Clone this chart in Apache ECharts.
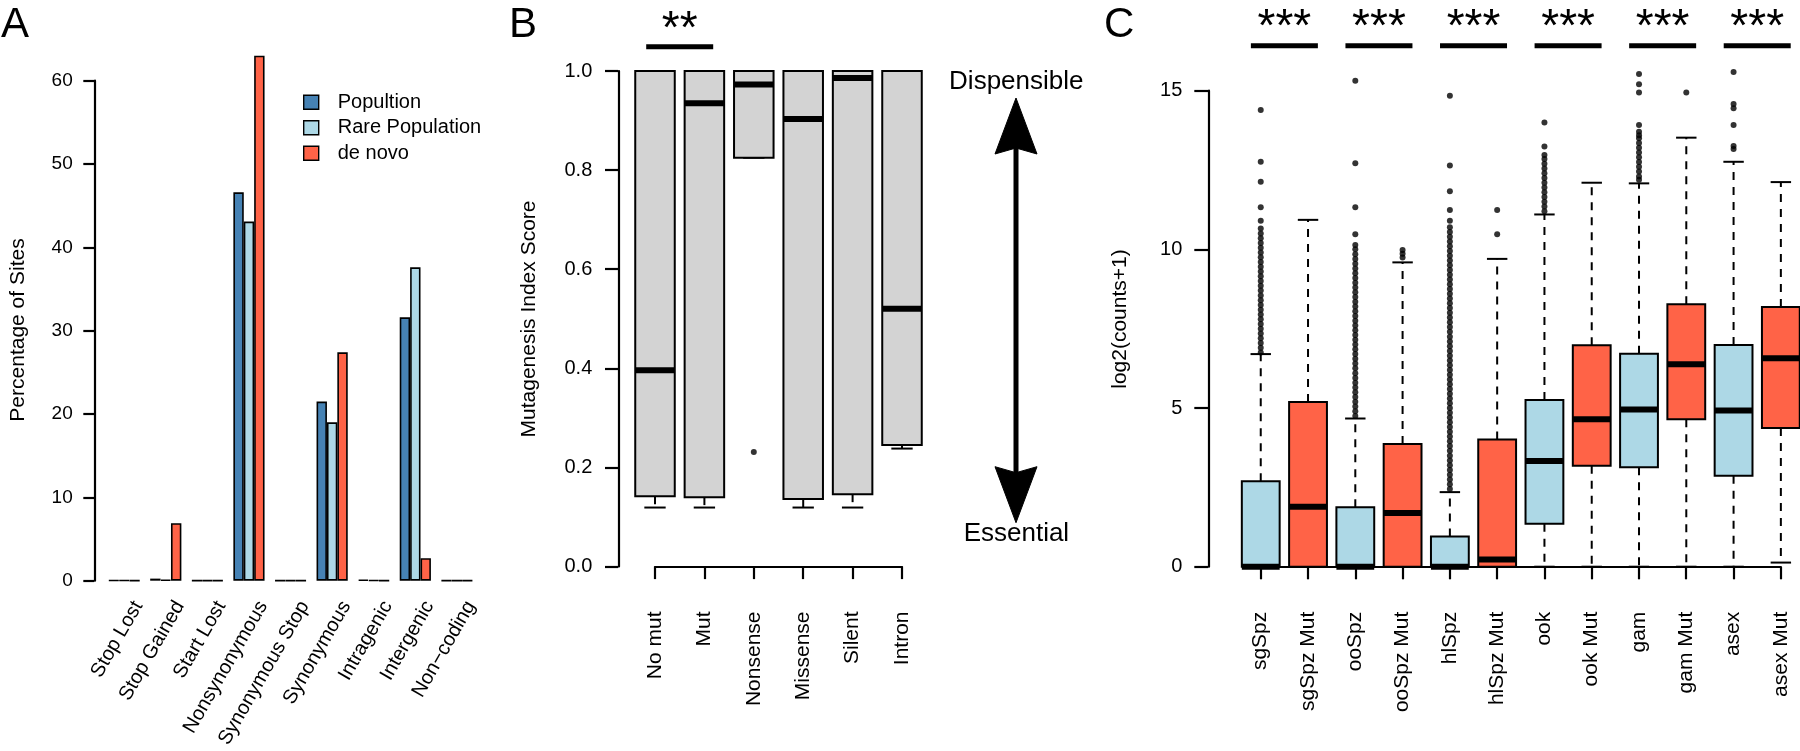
<!DOCTYPE html>
<html>
<head>
<meta charset="utf-8">
<script src="https://cdn.jsdelivr.net/npm/echarts@6/dist/echarts.min.js"></script>
<style>
html,body{margin:0;padding:0;background:#fff;}
#chart{width:1800px;height:751px;}
</style>
</head>
<body>
<div id="chart"></div>
<script>
// ---------- Panel A data ----------
const aCategories = ['Stop Lost','Stop Gained','Start Lost','Nonsynonymous','Synonymous Stop','Synonymous','Intragenic','Intergenic','Non\u2212coding'];
const aPopulation = [0.05, 0.25, 0.02, 46.6, 0.02, 21.5, 0.12, 31.6, 0.02];
const aRare       = [0.05, 0.10, 0.02, 43.1, 0.02, 19.0, 0.05, 37.6, 0.02];
const aDeNovo     = [0.02, 6.9, 0.02, 63.0, 0.02, 27.4, 0.02, 2.7, 0.02];
const aSeriesNames = ['Popultion','Rare Population','de novo'];
const aTicks = [0, 10, 20, 30, 40, 50, 60];

// ---------- Panel B data ----------
const bCategories = ['No mut','Mut','Nonsense','Missense','Silent','Intron'];
const bLow  = [0.119, 0.119, 0.825, 0.119, 0.119, 0.238];
const bQ1   = [0.142, 0.140, 0.825, 0.136, 0.146, 0.245];
const bMed  = [0.396, 0.935, 0.973, 0.903, 0.986, 0.520];
const bQ3   = [1.0, 1.0, 1.0, 1.0, 1.0, 1.0];
const bHigh = [1.0, 1.0, 1.0, 1.0, 1.0, 1.0];
const bOutlierIndex = [2];
const bOutlierValue = [0.231];
const bSigPairs = [[0, 1]];
const bSigLabels = ['**'];

// ---------- Panel C data ----------
const cCategories = ['sgSpz','sgSpz Mut','ooSpz','ooSpz Mut','hlSpz','hlSpz Mut','ook','ook Mut','gam','gam Mut','asex','asex Mut'];
const cLow  = [0, 0, 0, 0, 0, 0, 0, 0, 0, 0, 0, 0.13];
const cQ1   = [0, 0, 0, 0, 0, 0, 1.35, 3.18, 3.13, 4.65, 2.87, 4.37];
const cMed  = [0, 1.89, 0, 1.69, 0, 0.23, 3.33, 4.65, 4.95, 6.38, 4.92, 6.57];
const cQ3   = [2.69, 5.19, 1.87, 3.87, 0.95, 4.01, 5.25, 6.98, 6.71, 8.27, 6.99, 8.18];
const cHigh = [6.70, 10.93, 4.67, 9.59, 2.35, 9.70, 11.10, 12.10, 12.08, 13.52, 12.76, 12.12];
const cOutSgSpz = [6.75, 6.9, 7.05, 7.2, 7.35, 7.5, 7.65, 7.8, 7.95, 8.1, 8.25, 8.4, 8.55, 8.7, 8.85, 9.0, 9.15, 9.3, 9.45, 9.6, 9.75, 9.9, 10.05, 10.2, 10.35, 10.5, 10.66, 10.9, 11.33, 12.13, 12.76, 14.39];
const cOutSgSpzMut = [];
const cOutOoSpz = [4.75, 4.9, 5.05, 5.2, 5.35, 5.5, 5.65, 5.8, 5.95, 6.1, 6.25, 6.4, 6.55, 6.7, 6.85, 7.0, 7.15, 7.3, 7.45, 7.6, 7.75, 7.9, 8.05, 8.2, 8.35, 8.5, 8.65, 8.8, 8.95, 9.1, 9.25, 9.4, 9.55, 9.7, 9.85, 10.0, 10.14, 10.48, 11.33, 12.71, 15.31];
const cOutOoSpzMut = [9.74, 9.86, 9.98];
const cOutHlSpz = [2.45, 2.6, 2.75, 2.9, 3.05, 3.2, 3.35, 3.5, 3.65, 3.8, 3.95, 4.1, 4.25, 4.4, 4.55, 4.7, 4.85, 5.0, 5.15, 5.3, 5.45, 5.6, 5.75, 5.9, 6.05, 6.2, 6.35, 6.5, 6.65, 6.8, 6.95, 7.1, 7.25, 7.4, 7.55, 7.7, 7.85, 8.0, 8.15, 8.3, 8.45, 8.6, 8.75, 8.9, 9.05, 9.2, 9.35, 9.5, 9.65, 9.8, 9.95, 10.1, 10.25, 10.4, 10.55, 10.7, 10.9, 11.24, 11.83, 12.64, 14.84];
const cOutHlSpzMut = [10.48, 11.24];
const cOutOok = [11.2, 11.35, 11.5, 11.65, 11.8, 11.95, 12.1, 12.25, 12.4, 12.55, 12.7, 12.85, 12.97, 13.24, 14.0];
const cOutOokMut = [];
const cOutGam = [12.19, 12.3, 12.45, 12.6, 12.75, 12.9, 13.05, 13.2, 13.35, 13.5, 13.6, 13.71, 13.92, 14.94, 15.2, 15.53];
const cOutGamMut = [14.94];
const cOutAsex = [13.16, 13.26, 13.92, 14.45, 14.58, 15.59];
const cOutAsexMut = [];
const cSigPairs = [[0, 1], [2, 3], [4, 5], [6, 7], [8, 9], [10, 11]];
const cSigLabels = ['***', '***', '***', '***', '***', '***'];

// ---------- helpers ----------
const FONT = '"Liberation Sans", Arial, Helvetica, sans-serif';
const BLACK = '#000000';
const cOutliers = [cOutSgSpz, cOutSgSpzMut, cOutOoSpz, cOutOoSpzMut, cOutHlSpz, cOutHlSpzMut, cOutOok, cOutOokMut, cOutGam, cOutGamMut, cOutAsex, cOutAsexMut];

function boxRows(low, q1, med, q3, high, filterFn) {
  const rows = [];
  for (let i = 0; i < low.length; i++) {
    if (!filterFn || filterFn(i)) rows.push([i, low[i], q1[i], med[i], q3[i], high[i]]);
  }
  return rows;
}

function makeBoxRender(fill) {
  return function (params, api) {
    const xi = api.value(0);
    const lo = api.value(1), q1 = api.value(2), md = api.value(3), q3 = api.value(4), hi = api.value(5);
    const x = api.coord([xi, md])[0];
    const yLo = api.coord([xi, lo])[1];
    const yQ1 = api.coord([xi, q1])[1];
    const yMd = api.coord([xi, md])[1];
    const yQ3 = api.coord([xi, q3])[1];
    const yHi = api.coord([xi, hi])[1];
    const bw = api.size([1, 0])[0] * 0.8;
    const st = bw * 0.27;
    const ch = [];
    const wStyle = { stroke: BLACK, lineWidth: 2, lineDash: [8, 7] };
    if (hi > q3) ch.push({ type: 'line', shape: { x1: x, y1: yQ3, x2: x, y2: yHi }, style: wStyle });
    if (lo < q1) ch.push({ type: 'line', shape: { x1: x, y1: yQ1, x2: x, y2: yLo }, style: wStyle });
    ch.push({ type: 'line', shape: { x1: x - st, y1: yHi, x2: x + st, y2: yHi }, style: { stroke: BLACK, lineWidth: 2 } });
    ch.push({ type: 'line', shape: { x1: x - st, y1: yLo, x2: x + st, y2: yLo }, style: { stroke: BLACK, lineWidth: 2 } });
    ch.push({ type: 'rect', shape: { x: x - bw / 2, y: yQ3, width: bw, height: yQ1 - yQ3 }, style: { fill: fill, stroke: BLACK, lineWidth: 2 } });
    ch.push({ type: 'line', shape: { x1: x - bw / 2, y1: yMd, x2: x + bw / 2, y2: yMd }, style: { stroke: BLACK, lineWidth: 6 } });
    return { type: 'group', children: ch };
  };
}

function makeSigRender(labels, barY, textY) {
  return function (params, api) {
    const a = api.coord([api.value(0), 0]);
    const b = api.coord([api.value(1), 0]);
    const cx = (a[0] + b[0]) / 2;
    return {
      type: 'group',
      children: [
        { type: 'rect', shape: { x: cx - 33.5, y: barY - 2.5, width: 67, height: 5 }, style: { fill: BLACK } },
        { type: 'text', style: { text: labels[params.dataIndex], x: cx, y: textY, align: 'center', verticalAlign: 'middle', fontSize: 46, fontFamily: FONT, fill: BLACK } }
      ]
    };
  };
}

const bOutlierData = bOutlierIndex.map((idx, k) => [idx, bOutlierValue[k]]);
const cOutlierData = [];
cOutliers.forEach((arr, idx) => arr.forEach(v => cOutlierData.push([idx, v])));

const axisLineStyle = { color: BLACK, width: 2.2 };

// ---------- grids ----------
const grids = [
  { left: 103.4, top: 80.7, width: 374.3, height: 500 },      // 0 A data
  { left: 117.4, top: 80.7, width: 374.3, height: 500 },      // 1 A labels
  { left: 630.3, top: 71, width: 296.4, height: 495.5 },      // 2 B data
  { left: 655, top: 71, width: 247, height: 495.5 },          // 3 B x axis
  { left: 1237.1, top: 90.7, width: 567.4, height: 476 },     // 4 C data
  { left: 1260.7, top: 90.7, width: 520.1, height: 476 }      // 5 C x axis
].map(g => Object.assign({ outerBoundsMode: 'none', containLabel: false }, g));

const hiddenCat = (gi, data) => ({ type: 'category', gridIndex: gi, data: data, show: false, boundaryGap: true });

const xAxes = [
  hiddenCat(0, aCategories),
  { type: 'category', gridIndex: 1, data: aCategories, boundaryGap: true,
    axisLine: { show: false }, axisTick: { show: false },
    axisLabel: { interval: 0, rotate: 60, margin: 22, fontSize: 20, fontFamily: FONT, color: BLACK } },
  hiddenCat(2, bCategories),
  { type: 'category', gridIndex: 3, data: bCategories, boundaryGap: false, offset: 20,
    axisLine: { show: true, lineStyle: axisLineStyle },
    axisTick: { show: true, length: 12.6, lineStyle: axisLineStyle, interval: 0 },
    axisLabel: { interval: 0, rotate: 90, margin: 25, fontSize: 21, fontFamily: FONT, color: BLACK } },
  hiddenCat(4, cCategories),
  { type: 'category', gridIndex: 5, data: cCategories, boundaryGap: false, offset: 20,
    axisLine: { show: true, lineStyle: axisLineStyle },
    axisTick: { show: true, length: 12.6, lineStyle: axisLineStyle, interval: 0 },
    axisLabel: { interval: 0, rotate: 90, margin: 25, fontSize: 21, fontFamily: FONT, color: BLACK } }
];

const yAxes = [
  { type: 'value', gridIndex: 0, min: aTicks[0], max: aTicks[aTicks.length - 1], interval: 10, offset: 9.1,
    axisLine: { show: true, lineStyle: axisLineStyle }, axisTick: { show: true, length: 11, lineStyle: axisLineStyle },
    splitLine: { show: false },
    axisLabel: { margin: 21.6, fontSize: 19, fontFamily: FONT, color: BLACK } },
  { type: 'value', gridIndex: 1, min: 0, max: 60, show: false, splitLine: { show: false } },
  { type: 'value', gridIndex: 2, min: 0, max: 1, interval: 0.2, offset: 12,
    axisLine: { show: true, lineStyle: axisLineStyle }, axisTick: { show: true, length: 13.3, lineStyle: axisLineStyle },
    splitLine: { show: false },
    axisLabel: { margin: 26, fontSize: 20, fontFamily: FONT, color: BLACK, formatter: v => v.toFixed(1) } },
  { type: 'value', gridIndex: 3, min: 0, max: 1, show: false, splitLine: { show: false } },
  { type: 'value', gridIndex: 4, min: 0, max: 15, interval: 5, offset: 28.8,
    axisLine: { show: true, lineStyle: axisLineStyle }, axisTick: { show: true, length: 14, lineStyle: axisLineStyle },
    splitLine: { show: false },
    axisLabel: { margin: 26, fontSize: 20, fontFamily: FONT, color: BLACK } },
  { type: 'value', gridIndex: 5, min: 0, max: 15, show: false, splitLine: { show: false } }
];

const barColors = ['#4682B4', '#ADD8E6', '#FF6347'];
const aValues = [aPopulation, aRare, aDeNovo];

const series = [];
aValues.forEach((vals, k) => {
  series.push({
    type: 'bar', name: aSeriesNames[k], xAxisIndex: 0, yAxisIndex: 0, data: vals,
    barGap: '0%', barCategoryGap: '25%', clip: false, silent: true,
    itemStyle: { color: barColors[k], borderColor: BLACK, borderWidth: 1.6 }
  });
});

series.push({
  type: 'custom', xAxisIndex: 2, yAxisIndex: 2, clip: false, silent: true,
  renderItem: makeBoxRender('#D3D3D3'),
  encode: { x: 0, y: [1, 2, 3, 4, 5] },
  data: boxRows(bLow, bQ1, bMed, bQ3, bHigh)
});
series.push({
  type: 'scatter', xAxisIndex: 2, yAxisIndex: 2, clip: false, silent: true,
  symbol: 'circle', symbolSize: 6, itemStyle: { color: BLACK }, data: bOutlierData, z: 5
});
series.push({
  type: 'custom', xAxisIndex: 2, yAxisIndex: 2, clip: false, silent: true,
  renderItem: makeSigRender(bSigLabels, 46.7, 30),
  encode: { x: [0, 1], y: 2 },
  data: bSigPairs.map(p => [p[0], p[1], 0])
});

series.push({
  type: 'custom', xAxisIndex: 4, yAxisIndex: 4, clip: false, silent: true,
  renderItem: makeBoxRender('#ADD8E6'),
  encode: { x: 0, y: [1, 2, 3, 4, 5] },
  data: boxRows(cLow, cQ1, cMed, cQ3, cHigh, i => i % 2 === 0)
});
series.push({
  type: 'custom', xAxisIndex: 4, yAxisIndex: 4, clip: false, silent: true,
  renderItem: makeBoxRender('#FF6347'),
  encode: { x: 0, y: [1, 2, 3, 4, 5] },
  data: boxRows(cLow, cQ1, cMed, cQ3, cHigh, i => i % 2 === 1)
});
series.push({
  type: 'scatter', xAxisIndex: 4, yAxisIndex: 4, clip: false, silent: true,
  symbol: 'circle', symbolSize: 6, itemStyle: { color: BLACK }, data: cOutlierData, z: 5
});
series.push({
  type: 'custom', xAxisIndex: 4, yAxisIndex: 4, clip: false, silent: true,
  renderItem: makeSigRender(cSigLabels, 45.7, 28),
  encode: { x: [0, 1], y: 2 },
  data: cSigPairs.map(p => [p[0], p[1], 0])
});

// ---------- annotations ----------
function txt(text, x, y, size, rot) {
  return { type: 'text', x: x, y: y, rotation: rot || 0, silent: true,
    style: { text: text, x: 0, y: 0, align: 'center', verticalAlign: 'middle', fontSize: size, fontFamily: FONT, fill: BLACK } };
}
const graphic = [
  { type: 'text', left: 1, top: 4, silent: true, style: { text: 'A', fontSize: 42, fontFamily: FONT, fill: BLACK } },
  { type: 'text', left: 509, top: 4, silent: true, style: { text: 'B', fontSize: 42, fontFamily: FONT, fill: BLACK } },
  { type: 'text', left: 1104, top: 4, silent: true, style: { text: 'C', fontSize: 42, fontFamily: FONT, fill: BLACK } },
  txt('Percentage of Sites', 18, 330, 21, Math.PI / 2),
  txt('Mutagenesis Index Score', 529, 319, 21, Math.PI / 2),
  txt('log2(counts+1)', 1120, 319, 21, Math.PI / 2),
  txt('Dispensible', 1016.3, 82, 26, 0),
  txt('Essential', 1016.4, 533.5, 26, 0),
  { type: 'line', silent: true, shape: { x1: 1016, y1: 140, x2: 1016, y2: 480 }, style: { stroke: BLACK, lineWidth: 5 } },
  { type: 'polygon', silent: true, shape: { points: [[1016, 98], [1037, 154], [1016, 148], [995, 154]] }, style: { fill: BLACK, stroke: BLACK, lineWidth: 1 } },
  { type: 'polygon', silent: true, shape: { points: [[1016, 522.7], [1037, 466.7], [1016, 472.7], [995, 466.7]] }, style: { fill: BLACK, stroke: BLACK, lineWidth: 1 } }
];

const chart = echarts.init(document.getElementById('chart'), null, { renderer: 'canvas' });
chart.setOption({
  backgroundColor: '#ffffff',
  animation: false,
  textStyle: { fontFamily: FONT, color: BLACK },
  grid: grids,
  xAxis: xAxes,
  yAxis: yAxes,
  legend: {
    data: aSeriesNames, orient: 'vertical', left: 298, top: 87.3,
    itemWidth: 15, itemHeight: 14, itemGap: 5.5, selectedMode: false,
    icon: 'rect',
    itemStyle: { borderColor: BLACK, borderWidth: 1.4 },
    textStyle: { fontSize: 20, fontFamily: FONT, color: BLACK, lineHeight: 20, padding: [0, 0, 0, 14] }
  },
  series: series,
  graphic: graphic
});
</script>
</body>
</html>
